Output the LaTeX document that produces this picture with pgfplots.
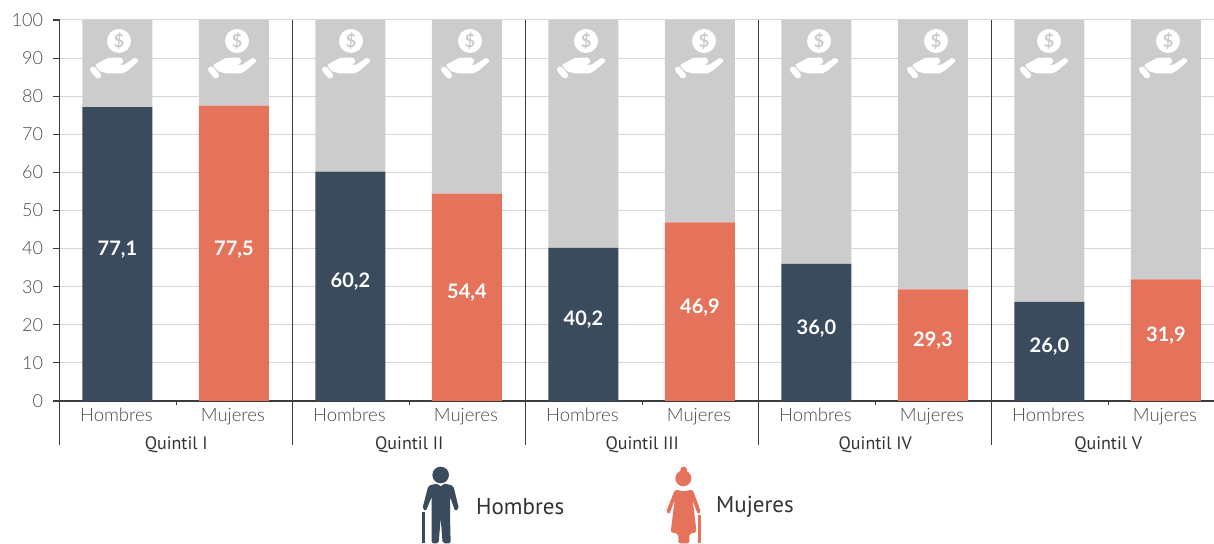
\documentclass[border=0pt]{standalone}
\usepackage{pgfplots}
\usepackage{pgfplotstable}
\usepackage{fontspec}
\pgfplotsset{compat=1.18}
\setmainfont[BoldFont={Lato Bold}]{Lato Light}
\newfontfamily\reg{PT Sans}
\definecolor{navy}{HTML}{3A4B5E}
\definecolor{coral}{HTML}{E5725A}
\definecolor{lgrey}{HTML}{CCCCCC}
\definecolor{gridg}{HTML}{D6D6D6}
\definecolor{axisd}{HTML}{3C3C3C}
\definecolor{txtg}{HTML}{4A4A4A}
\tikzset{
 etq/.style={text=white,font=\bfseries\fontsize{20}{20}\selectfont,inner sep=0pt},
 qui/.style={font=\reg\fontsize{18}{18}\selectfont,text=black!80},
}
\pgfplotstableread{
x h m r
0 77.1 0 22.9
1 0 77.5 22.5
2 60.2 0 39.8
3 0 54.4 45.6
4 40.2 0 59.8
5 0 46.9 53.1
6 36.0 0 64.0
7 0 29.3 70.7
8 26.0 0 74.0
9 0 31.9 68.1
}\datos
\newcommand{\icono}[1]{%
 \begin{scope}[shift={(#1,502)}]
  \fill[white] (0,0) circle[radius=12pt];
  \node[text=lgrey,font=\bfseries\fontsize{18}{18}\selectfont,inner sep=0pt] at (0,0) {\$};
  \draw[white,line width=6pt,line cap=round] (-26,-28.5) -- (-21,-34.5);
  \fill[white,draw=white,line width=3pt,line join=round] (-22,-24.5) -- (-10.7,-18.5) -- (1,-18) -- (3,-20) -- (1,-22) -- (-7,-22.5) -- (-7,-25.5) -- (2,-25.5) -- (6,-25) -- (16,-18.5) -- (17.8,-19.8) -- (7.7,-28.5) -- (2.7,-31) -- (-10.7,-31) -- (-18,-29) -- cycle;
 \end{scope}}
\begin{document}
\begin{tikzpicture}[x=1pt,y=1pt]
\useasboundingbox (0,0) rectangle (1214,543);
\begin{axis}[
 at={(59.5pt,142pt)},anchor=south west,
 scale only axis,width=1154.5pt,height=381pt,
 xmin=-0.497,xmax=9.413,ymin=0,ymax=100,
 clip=false,
 axis x line=bottom,axis y line=left,
 axis line style={axisd,line width=1.1pt,-},
 ymajorgrids,grid style={gridg,line width=1pt},
 axis on top=false,
 ytick={0,10,...,100},
 xtick={0,...,9},
 xticklabels={Hombres,Mujeres,Hombres,Mujeres,Hombres,Mujeres,Hombres,Mujeres,Hombres,Mujeres},
 x tick style={draw=none},
 y tick style={axisd,line width=1.1pt},
 major tick length=7pt,
 tick align=outside,
 y tick label style={font=\fontsize{18}{18}\selectfont,text=txtg,xshift=-6pt},
 x tick label style={font=\fontsize{18.5}{18.5}\selectfont,text=txtg,yshift=3pt,xshift=-1pt},
 /pgf/number format/assume math mode=true,
 bar width=70pt,
 ybar stacked,
 after end axis/.code={
  \node[etq] at (axis cs:0,39.6) {77,1};
  \node[etq] at (axis cs:1,39.6) {77,5};
  \node[etq] at (axis cs:2,31.4) {60,2};
  \node[etq] at (axis cs:3,28.5) {54,4};
  \node[etq] at (axis cs:4,21.3) {40,2};
  \node[etq] at (axis cs:5,24.5) {46,9};
  \node[etq] at (axis cs:6,19.1) {36,0};
  \node[etq] at (axis cs:7,15.8) {29,3};
  \node[etq] at (axis cs:8,14.2) {26,0};
  \node[etq] at (axis cs:9,17.1) {31,9};
 },
]
\addplot[fill=navy,draw=none] table[x=x,y=h] {\datos};
\addplot[fill=coral,draw=none] table[x=x,y=m] {\datos};
\addplot[fill=lgrey,draw=none] table[x=x,y=r] {\datos};
\draw[axisd,line width=1.1pt] (axis cs:-0.497,100) -- (axis cs:-0.497,-11.55);
\draw[axisd,line width=1.1pt] (axis cs:1.505,100) -- (axis cs:1.505,-11.55);
\draw[axisd,line width=1.1pt] (axis cs:3.505,100) -- (axis cs:3.505,-11.55);
\draw[axisd,line width=1.1pt] (axis cs:5.505,100) -- (axis cs:5.505,-11.55);
\draw[axisd,line width=1.1pt] (axis cs:7.505,100) -- (axis cs:7.505,-11.55);
\draw[axisd,line width=1.1pt] (axis cs:0.505,0) -- (axis cs:0.505,-1.1);
\draw[axisd,line width=1.1pt] (axis cs:2.505,0) -- (axis cs:2.505,-1.1);
\draw[axisd,line width=1.1pt] (axis cs:4.505,0) -- (axis cs:4.505,-1.1);
\draw[axisd,line width=1.1pt] (axis cs:6.505,0) -- (axis cs:6.505,-1.1);
\draw[axisd,line width=1.1pt] (axis cs:8.505,0) -- (axis cs:8.505,-1.1);
\node[qui] at (axis cs:0.505,-11.4) {Quintil I};
\node[qui] at (axis cs:2.505,-11.4) {Quintil II};
\node[qui] at (axis cs:4.505,-11.4) {Quintil III};
\node[qui] at (axis cs:6.505,-11.4) {Quintil IV};
\node[qui] at (axis cs:8.505,-11.4) {Quintil V};
\end{axis}
\foreach \c in {119,237,351,470,586,704,819,936,1049,1168} {\icono{\c}}
% legend figures (zoom coordinates)
\begin{scope}[shift={(400,88)},x=0.33333pt,y=-0.33333pt]
 \fill[navy] (122,60) circle[radius=8.3pt];
 \fill[navy,rounded corners=2pt] (85,92) -- (115,85) -- (122,97) -- (130,85) -- (160,92) -- (177,162) -- (165,168) -- (150,125) -- (150,180) -- (152,265) -- (128,265) -- (122,190) -- (116,265) -- (95,265) -- (95,180) -- (95,125) -- (78,168) -- (67,162) -- cycle;
 \fill[navy] (67,172) rectangle (76,265);
 \fill[coral] (850,70) circle[radius=8pt];
 \fill[coral] (851,45) circle[radius=3.4pt];
 \fill[coral,rounded corners=2pt] (825,103) -- (850,110) -- (878,103) -- (903,172) -- (893,178) -- (878,135) -- (890,232) -- (868,236) -- (868,265) -- (835,265) -- (835,236) -- (812,232) -- (824,135) -- (808,178) -- (798,172) -- cycle;
 \fill[coral] (893,180) rectangle (902,265);
\end{scope}
\node[anchor=west,inner sep=0pt,font=\reg\fontsize{23}{23}\selectfont,text=black!80] at (476,36.5) {Hombres};
\node[anchor=west,inner sep=0pt,font=\reg\fontsize{23}{23}\selectfont,text=black!80] at (716,36.5) {Mujeres};
\end{tikzpicture}
\end{document}
